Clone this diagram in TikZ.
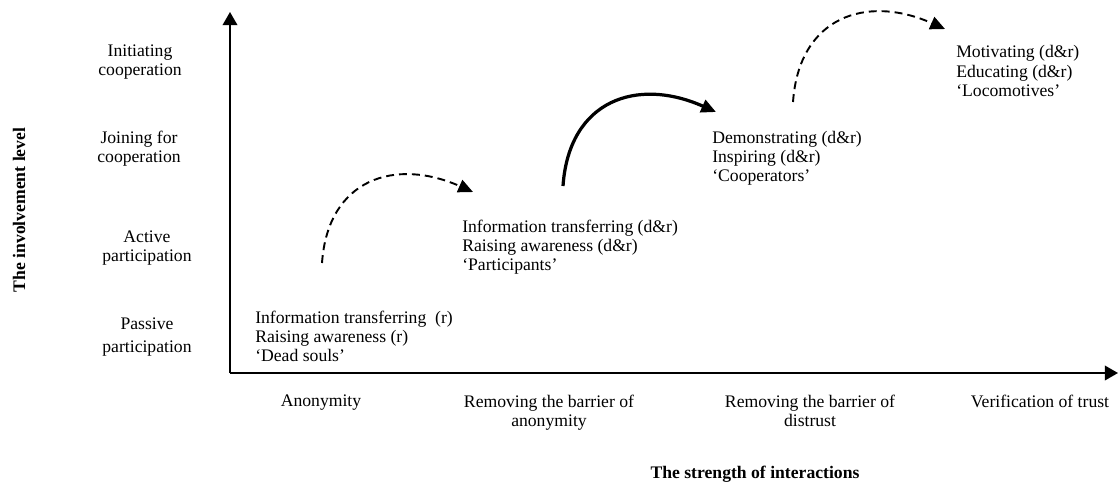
\documentclass[tikz,border=0pt]{standalone}
\usepackage{fontspec}
\setmainfont{Liberation Serif}
\usetikzlibrary{arrows.meta}

\tikzset{
  lbl/.style={align=center, inner sep=0pt, font=\fontsize{12}{13}\selectfont},
  blk/.style={align=left, anchor=west, inner sep=0pt, font=\fontsize{12}{13}\selectfont},
  axis/.style={line width=1.3pt, -{Triangle[length=9pt,width=10pt]}},
  jump/.style={line width=1.3pt, dash pattern=on 5.4pt off 3.4pt, -{Triangle[length=10pt,width=9pt]}},
  leap/.style={line width=2.2pt, -{Triangle[length=10pt,width=9pt]}},
}

\begin{document}
\begin{tikzpicture}[x=0.68pt, y=0.68pt]
\useasboundingbox (0,0) rectangle (1120,-484);

% axes
\coordinate (origin) at (230,-373);
\coordinate (ytip) at (230,-12);
\coordinate (xtip) at (1118,-373);
\draw[axis] (origin) -- (ytip);
\draw[axis] (origin) -- (xtip);

% involvement levels
\node[lbl] (init) at (140,-62) {Initiating\\cooperation};
\node[lbl] (join) at (139,-149) {Joining for\\cooperation};
\node[lbl] (active) at (147,-248) {Active\\participation};
\node[lbl] (passive) at (147,-337) {Passive\\[3pt]participation};
\node[lbl, font=\fontsize{12}{13}\selectfont\bfseries, rotate=90] (ylabel) at (19,-210) {The involvement level};

% strength of interactions
\node[lbl, anchor=north] (anon) at (321,-395) {Anonymity};
\node[lbl, anchor=north] (remanon) at (549,-395) {Removing the barrier of\\anonymity};
\node[lbl, anchor=north] (remdist) at (810,-395) {Removing the barrier of\\distrust};
\node[lbl, anchor=north] (verif) at (1040,-395) {Verification of trust};
\node[lbl, font=\fontsize{12}{13}\selectfont\bfseries] (xlabel) at (755,-474) {The strength of interactions};

% groups
\node[blk] (dead) at (255,-336) {Information transferring~ (r)\\Raising awareness (r)\\‘Dead souls’};
\node[blk] (part) at (462,-247) {Information transferring (d\&r)\\Raising awareness (d\&r)\\‘Participants’};
\node[blk] (coop) at (712,-158) {Demonstrating (d\&r)\\Inspiring (d\&r)\\‘Cooperators’};
\node[blk] (loco) at (956,-71) {Motivating (d\&r)\\Educating (d\&r)\\‘Locomotives’};

% transitions
\coordinate (s1) at (322,-263);
\coordinate (e1) at (473,-192);
\coordinate (s2) at (563,-186);
\coordinate (e2) at (716,-112);
\coordinate (s3) at (793,-102);
\coordinate (e3) at (945,-29);
\draw[jump] (s1) to[out=86, in=156, looseness=1.3] (e1);
\draw[leap] (s2) to[out=86, in=156, looseness=1.3] (e2);
\draw[jump] (s3) to[out=86, in=156, looseness=1.3] (e3);
\end{tikzpicture}
\end{document}
